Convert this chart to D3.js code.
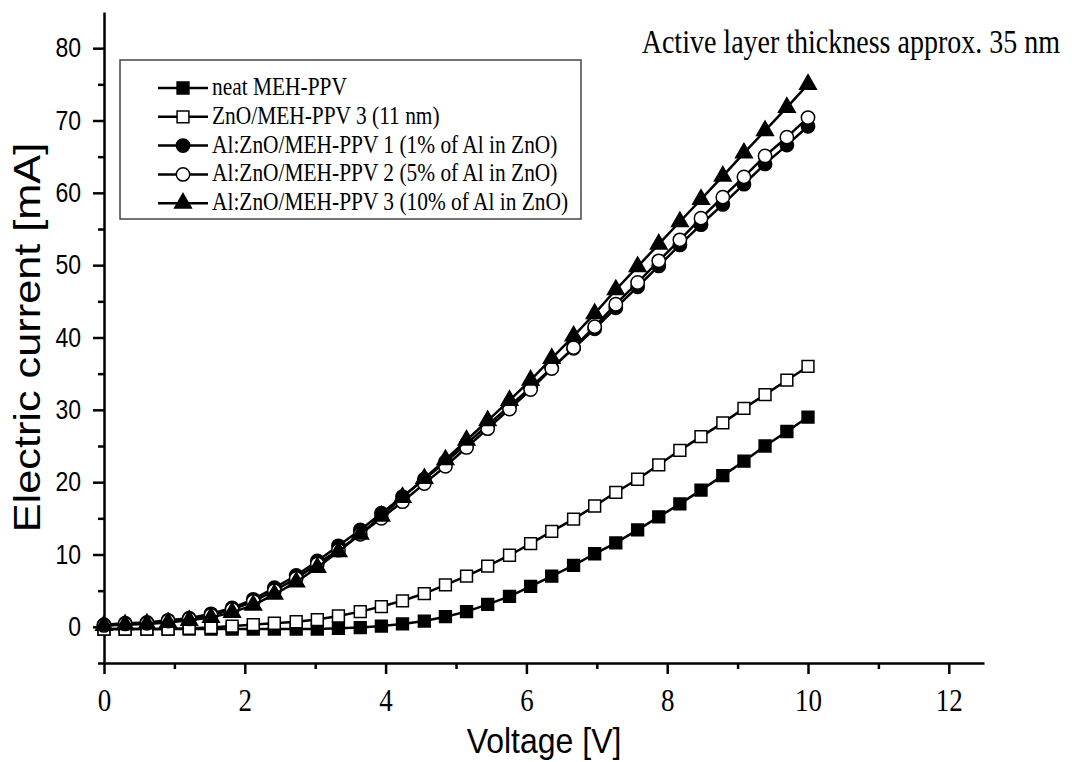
<!DOCTYPE html>
<html lang="en">
<head>
  <meta charset="utf-8">
  <title>I-V curves</title>
  <script src="https://d3js.org/d3.v7.min.js"></script>
  <style>
    body { margin: 0; background: #fff; }
    .axis path, .axis line { stroke: #000; stroke-width: 2.5; }
    .ylab text { font-family: "Liberation Sans", Arial, sans-serif; font-size: 23px; fill: #000; }
    .xlab text { font-family: "Liberation Serif", "Times New Roman", serif; font-size: 27px; fill: #000; }
    .title { font-family: "Liberation Sans", Arial, sans-serif; fill: #000; }
    .legend text { font-family: "Liberation Serif", "Times New Roman", serif; font-size: 21.4px; fill: #000; }
    .note { font-family: "Liberation Serif", "Times New Roman", serif; font-size: 28px; fill: #000; }
  </style>
</head>
<body>
<script>
// data (voltage in V, current in mA)
var voltage = [0, 0.30, 0.61, 0.91, 1.21, 1.52, 1.82, 2.12, 2.42, 2.73, 3.03, 3.33, 3.64, 3.94, 4.24, 4.55, 4.85,
  5.15, 5.45, 5.76, 6.06, 6.36, 6.67, 6.97, 7.27, 7.58, 7.88, 8.18, 8.48, 8.79, 9.09, 9.39, 9.70, 10.0];

var neat = [-0.3, -0.3, -0.3, -0.3, -0.3, -0.3, -0.3, -0.3, -0.3, -0.3, -0.3, -0.2, -0.1, 0.1, 0.4, 0.8, 1.4,
  2.1, 3.1, 4.2, 5.6, 7.0, 8.5, 10.1, 11.6, 13.4, 15.2, 17.0, 18.9, 20.9, 22.9, 25.0, 27.0, 29.0];

var zno = [-0.3, -0.3, -0.3, -0.3, -0.2, -0.1, 0.1, 0.3, 0.5, 0.7, 1.0, 1.5, 2.1, 2.8, 3.6, 4.6, 5.8,
  7.0, 8.4, 9.9, 11.5, 13.2, 14.9, 16.7, 18.6, 20.4, 22.4, 24.4, 26.3, 28.2, 30.2, 32.1, 34.1, 36.0];

var al1 = [0.3, 0.5, 0.6, 0.9, 1.2, 1.8, 2.6, 3.8, 5.4, 7.1, 9.1, 11.2, 13.4, 15.7, 18.0, 20.4, 22.8,
  25.3, 27.9, 30.5, 33.1, 35.8, 38.5, 41.2, 44.1, 47.0, 49.9, 52.8, 55.6, 58.4, 61.2, 64.0, 66.6, 69.2];

var al5 = [0.2, 0.4, 0.5, 0.8, 1.1, 1.6, 2.4, 3.5, 5.0, 6.7, 8.7, 10.6, 12.8, 15.0, 17.3, 19.8, 22.2,
  24.8, 27.4, 30.1, 32.8, 35.7, 38.6, 41.5, 44.6, 47.6, 50.6, 53.5, 56.5, 59.4, 62.2, 65.1, 67.7, 70.4];

var al10 = [0.2, 0.3, 0.4, 0.6, 0.9, 1.3, 2.0, 3.0, 4.5, 6.2, 8.2, 10.4, 12.8, 15.3, 17.9, 20.5, 23.1,
  25.8, 28.5, 31.3, 34.1, 37.1, 40.2, 43.3, 46.6, 49.8, 52.9, 56.0, 59.1, 62.3, 65.5, 68.6, 71.8, 75.0];

var seriesNames = ["neat MEH-PPV", "ZnO/MEH-PPV 3 (11 nm)", "Al:ZnO/MEH-PPV 1 (1% of Al in ZnO)",
  "Al:ZnO/MEH-PPV 2 (5% of Al in ZnO)", "Al:ZnO/MEH-PPV 3 (10% of Al in ZnO)"];
var seriesValues = [neat, zno, al1, al5, al10];

var xMajor = [0, 2, 4, 6, 8, 10, 12];
var xMinor = [1, 3, 5, 7, 9, 11];
var yMajor = [0, 10, 20, 30, 40, 50, 60, 70, 80];
var yMinor = [-5, 5, 15, 25, 35, 45, 55, 65, 75];

var noteText = "Active layer thickness approx. 35 nm";

// marker styles
var shapes = [d3.symbolSquare, d3.symbolSquare, d3.symbolCircle, d3.symbolCircle, d3.symbolTriangle];
var fills = ["#000", "#fff", "#000", "#fff", "#000"];
var sizes = [140, 140, 140, 140, 120];

// the original picture is a bit taller than wide, so text is stretched vertically
var stretch = 1.17;
var titleStretch = 1.1;

var width = 1072, height = 762;
var svg = d3.select("body").append("svg")
  .attr("width", width)
  .attr("height", height);

var x = d3.scaleLinear().domain([0, 12.5]).range([104, 984]);
var y = d3.scaleLinear().domain([-5, 85]).range([663, 12]);

// axes: minor ticks first, then major ticks with labels
svg.append("g").attr("class", "axis")
  .attr("transform", "translate(0," + y(-5) + ")")
  .call(d3.axisBottom(x).tickValues(xMinor).tickSize(6).tickFormat(""))
  .select(".domain").remove();
var xAxis = svg.append("g").attr("class", "axis xlab")
  .attr("transform", "translate(0," + y(-5) + ")")
  .call(d3.axisBottom(x).tickValues(xMajor).tickSize(11).tickSizeOuter(0).tickPadding(15));
xAxis.selectAll("text")
  .attr("y", function() { return +d3.select(this).attr("y") / stretch; })
  .attr("transform", "scale(1," + stretch + ")");

svg.append("g").attr("class", "axis")
  .attr("transform", "translate(" + x(0) + ",0)")
  .call(d3.axisLeft(y).tickValues(yMinor).tickSize(6).tickFormat(""))
  .select(".domain").remove();
var yAxis = svg.append("g").attr("class", "axis ylab")
  .attr("transform", "translate(" + x(0) + ",0)")
  .call(d3.axisLeft(y).tickValues(yMajor).tickSize(11).tickSizeOuter(0).tickPadding(12));
yAxis.selectAll("text")
  .attr("transform", "scale(1," + stretch + ")");

// axis titles
svg.append("text").attr("class", "title")
  .attr("transform", "translate(" + x(6.25) + ",753) scale(1," + titleStretch + ")")
  .attr("font-size", 32)
  .attr("text-anchor", "middle")
  .text("Voltage [V]");
svg.append("text").attr("class", "title")
  .attr("transform", "translate(40," + y(40) + ") rotate(-90) scale(" + stretch + ",1)")
  .attr("font-size", 37)
  .attr("text-anchor", "middle")
  .text("Electric current [mA]");

// curves
var line = d3.line()
  .x(function(d, i) { return x(voltage[i]); })
  .y(function(d) { return y(d); });

var plot = svg.append("g");
seriesValues.forEach(function(vals, k) {
  var g = plot.append("g");
  g.append("path")
    .attr("d", line(vals))
    .attr("fill", "none")
    .attr("stroke", "#000")
    .attr("stroke-width", 2.5);
  g.selectAll("path.pt")
    .data(vals)
    .enter()
    .append("path")
    .attr("class", "pt")
    .attr("d", d3.symbol().type(shapes[k]).size(sizes[k]))
    .attr("transform", function(d, i) { return "translate(" + x(voltage[i]) + "," + y(d) + ")"; })
    .attr("fill", fills[k])
    .attr("stroke", "#000")
    .attr("stroke-width", 1.5);
});

// legend
var legend = svg.append("g").attr("class", "legend");
legend.append("rect")
  .attr("x", 120).attr("y", 60)
  .attr("width", 461).attr("height", 159)
  .attr("fill", "#fff")
  .attr("stroke", "#444")
  .attr("stroke-width", 1.5);
seriesNames.forEach(function(name, k) {
  var ly = 88 + k * 28.8;
  legend.append("line")
    .attr("x1", 158).attr("x2", 208)
    .attr("y1", ly).attr("y2", ly)
    .attr("stroke", "#000").attr("stroke-width", 2.5);
  legend.append("path")
    .attr("d", d3.symbol().type(shapes[k]).size(sizes[k]))
    .attr("transform", "translate(183," + ly + ")")
    .attr("fill", fills[k])
    .attr("stroke", "#000")
    .attr("stroke-width", 1.5);
  legend.append("text")
    .attr("transform", "translate(212," + (ly + 7) + ") scale(1," + stretch + ")")
    .text(name);
});

// annotation in the top right corner
svg.append("text").attr("class", "note")
  .attr("transform", "translate(1060,53) scale(1," + stretch + ")")
  .attr("text-anchor", "end")
  .text(noteText);
</script>
</body>
</html>
